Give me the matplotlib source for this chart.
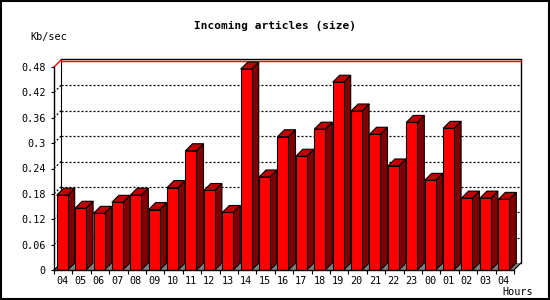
import matplotlib
matplotlib.use("Agg")
import matplotlib.pyplot as plt
from matplotlib.patches import Polygon, Rectangle

hours = ["04", "05", "06", "07", "08", "09", "10", "11", "12", "13", "14", "15",
         "16", "17", "18", "19", "20", "21", "22", "23", "00", "01", "02", "03", "04"]
values = [0.177, 0.146, 0.134, 0.160, 0.177, 0.143, 0.195, 0.282, 0.188, 0.136,
          0.475, 0.220, 0.315, 0.269, 0.333, 0.444, 0.376, 0.321, 0.246, 0.349,
          0.212, 0.335, 0.170, 0.170, 0.167]
yticks = [0, 0.06, 0.12, 0.18, 0.24, 0.30, 0.36, 0.42, 0.48]
ytick_labels = ["0", "0.06", "0.12", "0.18", "0.24", "0.3", "0.36", "0.42", "0.48"]
title = "Incoming articles (size)"
ylabel = "Kb/sec"
xlabel = "Hours"

W, H = 550, 300
fig = plt.figure(figsize=(5.5, 3.0), dpi=100)
fig.patch.set_facecolor("white")

pitch = 18.4          # px per bar slot
scale = 203 / 0.48    # px per unit value
dpx = 7.0             # 3D depth in px
n = len(values)
dx = dpx / pitch
dy = dpx / scale
ymax = 0.48

x0_px, y0_px = 54, 270
width_px = pitch * (n + dx)
top_val = ymax + dy + 0.002
height_px = top_val * scale
ax = fig.add_axes([x0_px / W, (H - y0_px) / H, width_px / W, height_px / H])
ax.set_xlim(0, n + dx)
ax.set_ylim(0, top_val)
for s in ax.spines.values():
    s.set_visible(False)
ax.patch.set_visible(False)

lw = 0.8
# floor
ax.add_patch(Polygon([(0, 0), (n, 0), (n + dx, dy), (dx, dy)], closed=True,
                     facecolor="#808080", edgecolor="none", zorder=1))
# grid lines on back wall
for v in yticks[1:-1]:
    ax.plot([dx, n + dx], [v + dy, v + dy], color="black", lw=0.9,
            linestyle=(0, (1.6, 1.6)), zorder=1.5, clip_on=False)
    ax.plot([0, dx], [v, v + dy], color="black", lw=0.9,
            linestyle=(0, (1.6, 1.6)), zorder=1.5, clip_on=False)
# back wall frame
ax.plot([dx, dx], [dy, ymax + dy], color="black", lw=lw, zorder=1.6, clip_on=False)
ax.plot([n + dx, n + dx], [dy, ymax + dy], color="black", lw=1.0, zorder=1.6, clip_on=False)
ax.plot([dx, n + dx], [ymax + dy + 1.0 / scale, ymax + dy + 1.0 / scale],
        color="black", lw=1.0, zorder=1.6, clip_on=False)
ax.plot([dx, n + dx], [ymax + dy - 0.8 / scale, ymax + dy - 0.8 / scale],
        color="red", lw=1.0, zorder=1.7, clip_on=False)
ax.plot([0, dx], [ymax, ymax + dy], color="red", lw=1.0, zorder=1.7, clip_on=False)
ax.plot([n, n + dx], [0, dy], color="black", lw=lw, zorder=1.6, clip_on=False)
ax.plot([0, dx], [0, dy], color="black", lw=lw, zorder=1.6, clip_on=False)

# bars
off = 2.7 / pitch
bw = 11.0 / pitch
for i, v in enumerate(values):
    xl = i + off
    xr = xl + bw
    z = 3 + i * 0.01
    ax.add_patch(Polygon([(xr, 0), (xr + dx, dy), (xr + dx, v + dy), (xr, v)], closed=True,
                         facecolor="#800000", edgecolor="black", lw=lw, zorder=z))
    ax.add_patch(Polygon([(xl, v), (xr, v), (xr + dx, v + dy), (xl + dx, v + dy)], closed=True,
                         facecolor="#C00000", edgecolor="black", lw=lw, zorder=z))
    ax.add_patch(Rectangle((xl, 0), bw, v, facecolor="#FF0000", edgecolor="black",
                           lw=lw, zorder=z + 0.005))

# front axes
ax.plot([0, 0], [0, ymax], color="black", lw=1.0, zorder=5, clip_on=False)
ax.plot([0, n], [0, 0], color="black", lw=1.0, zorder=5, clip_on=False)

mono = "DejaVu Sans Mono"
ax.set_xticks([i + off + bw / 2 for i in range(n)])
ax.set_xticklabels(hours, fontfamily=mono, fontsize=7.3)
ax.set_xticks(list(range(n + 1)), minor=True)
ax.tick_params(axis="x", which="major", length=0, pad=4.2)
ax.tick_params(axis="x", which="minor", length=3, width=0.8, direction="out")
ax.set_yticks(yticks)
ax.set_yticklabels(ytick_labels, fontfamily=mono, fontsize=7.3)
ax.tick_params(axis="y", length=2.2, width=0.8, direction="out", pad=3.6)

fig.text(275 / W, 1 - 26 / H, title, ha="center", va="center", fontfamily=mono,
         fontweight="bold", fontsize=8.0)
fig.text(30 / W, 1 - 37 / H, ylabel, ha="left", va="center", fontfamily=mono, fontsize=7.3)
fig.text(533 / W, 1 - 292 / H, xlabel, ha="right", va="center", fontfamily=mono, fontsize=7.3)

fig.add_artist(Rectangle((0.001, 0.002), 0.997, 0.996, transform=fig.transFigure,
                         fill=False, edgecolor="black", lw=1.5))

fig.savefig("out.png", dpi=100, facecolor="white")
